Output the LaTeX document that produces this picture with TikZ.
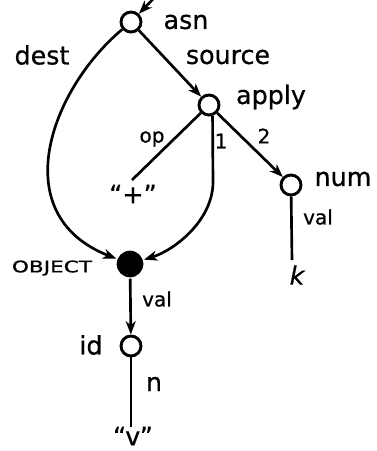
\documentclass[tikz,border=0pt]{standalone}
\usepackage{fontspec}
\setmainfont[FakeBold=0.7]{DejaVu Sans}
\usetikzlibrary{arrows.meta}
\begin{document}
\begin{tikzpicture}[x=0.75pt,y=-0.75pt,
  line width=2pt,
  onode/.style={circle,draw,line width=2.2pt,minimum size=15pt,inner sep=0pt},
  fnode/.style={circle,fill=black,minimum size=20pt,inner sep=0pt},
  arr/.style={-{Stealth[length=10pt,width=7.5pt,inset=3pt]}},
  lbl/.style={font=\fontsize{19}{22}\selectfont,inner sep=0pt},
  slbl/.style={font=\fontsize{15}{18}\selectfont,inner sep=0pt}]
\useasboundingbox (0,0) rectangle (376,451);
% nodes
\node[onode] (asn) at (131,22) {};
\node[onode] (apply) at (209,105) {};
\node[onode] (num) at (291,185) {};
\node[fnode] (obj) at (130,264) {};
\node[onode] (id) at (131,346) {};
\coordinate (topin) at (154,-2);
\coordinate (plus) at (132,180);
\coordinate (kend) at (292,260);
\coordinate (vend) at (131,427);
\coordinate (bend) at (213,182);
% connectors
\draw[arr] (topin) -- (asn);
\draw[arr] (asn) -- (apply);
\draw[arr] (apply) -- (num);
\draw (apply) -- (plus);
\draw (num) -- (kend);
\draw[arr] (obj) -- (id);
\draw (id) -- (vend);
\draw[arr] (asn) .. controls (50,90) and (5,215) .. (obj);
\draw[arr] (apply.-72) -- (bend) .. controls (213,220) and (175,250) .. (obj);
% labels
\node[lbl] (lasn) at (186,22) {asn};
\node[lbl] (ldest) at (42,55) {dest};
\node[lbl] (lsource) at (228,57) {source};
\node[lbl] (lapply) at (271,97) {apply};
\node[lbl] (lnum) at (343,179) {num};
\node[slbl] (lop) at (152,139) {op};
\node[slbl] (lone) at (221,141) {1};
\node[slbl] (ltwo) at (264,136) {2};
\node[lbl] (lplus) at (133,194) {“+”};
\node[slbl] (lval1) at (318,217) {val};
\node[lbl] (lk) at (297,275) {\itshape k};
\node[inner sep=0pt] (lobj) at (52,268) {\scalebox{1.35}[1]{\fontsize{12}{14}\selectfont OBJECT}};
\node[slbl] (lval2) at (157,299) {val};
\node[lbl] (lid) at (91,345) {id};
\node[lbl] (ln) at (154,384) {n};
\node[lbl] (lv) at (133,436) {“v”};
\end{tikzpicture}
\end{document}
